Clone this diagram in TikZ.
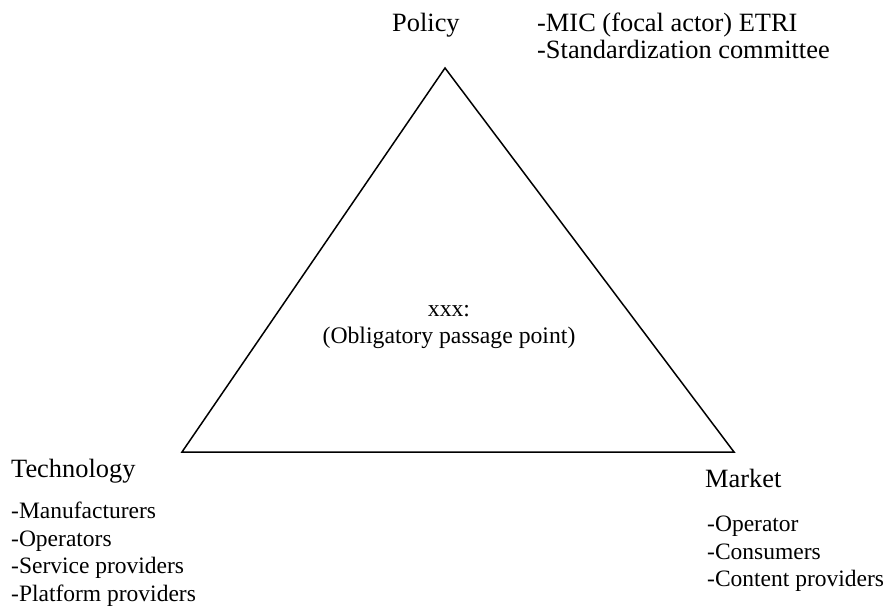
\documentclass[tikz,border=0pt]{standalone}
\usepackage{fontspec}
\setmainfont{Liberation Serif}
\begin{document}
\begin{tikzpicture}[x=1pt,y=-1pt,
  big/.style={inner sep=0pt,anchor=base west,font=\fontsize{26.4}{31}\selectfont},
  small/.style={inner sep=0pt,anchor=base west,font=\fontsize{23.5}{28}\selectfont},
  mid/.style={inner sep=0pt,anchor=base,font=\fontsize{23.7}{28}\selectfont},
  edge/.style={line width=1.5pt,line join=miter}]
\useasboundingbox (0,0) rectangle (888,608);
\coordinate (apex) at (445,68);
\coordinate (bl) at (182,452);
\coordinate (br) at (734,452);
\draw[edge] (apex) -- (br) -- (bl) -- cycle;

\node[big] (policy) at (392,31) {Policy};
\node[big] (p1) at (537,31) {-MIC (focal actor) ETRI};
\node[big] (p2) at (537,58) {-Standardization committee};

\node[mid] (c1) at (449,316.5) {xxx:};
\node[mid] (c2) at (449,343) {(Obligatory passage point)};

\node[big] (tech) at (11,477) {Technology};
\node[small] (t1) at (11,518.5) {-Manufacturers};
\node[small] (t2) at (11,546) {-Operators};
\node[small] (t3) at (11,573.5) {-Service providers};
\node[small] (t4) at (11,601.5) {-Platform providers};

\node[big] (market) at (705,487.5) {Market};
\node[small] (m1) at (707,531.5) {-Operator};
\node[small] (m2) at (707,559) {-Consumers};
\node[small] (m3) at (707,586) {-Content providers};
\end{tikzpicture}
\end{document}
